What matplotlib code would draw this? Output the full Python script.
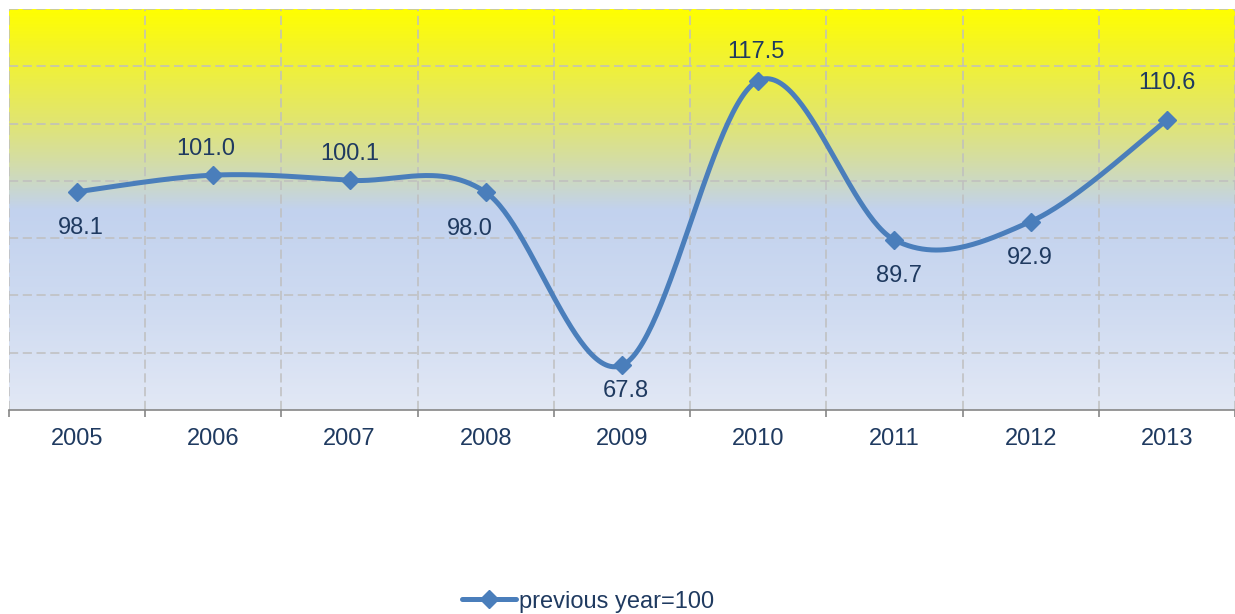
import matplotlib.pyplot as plt
import numpy as np
from matplotlib.colors import to_rgb

years = ["2005", "2006", "2007", "2008", "2009", "2010", "2011", "2012", "2013"]
values = [98.1, 101.0, 100.1, 98.0, 67.8, 117.5, 89.7, 92.9, 110.6]
label_offsets = [(4, -36), (-8, 26), (0, 26), (-16, -37), (4, -26), (-2, 29), (5, -36), (-1, -36), (0, 37)]
series_name = "previous year=100"

LINE_COLOR = "#4A7EBB"
TEXT_COLOR = "#1F3A60"
GRID_COLOR = "#BFBFBF"
FS = 17

plt.rcParams["font.family"] = ["Liberation Sans", "DejaVu Sans"]


def catmull_rom(xs, ys, n=60):
    """Excel-like smoothed line: cubic Bezier through points (Catmull-Rom)."""
    pts = np.column_stack([xs, ys]).astype(float)
    padded = np.vstack([pts[0], pts, pts[-1]])
    out = []
    for i in range(len(pts) - 1):
        p0, p1, p2, p3 = padded[i], padded[i + 1], padded[i + 2], padded[i + 3]
        b1 = p1 + (p2 - p0) / 6
        b2 = p2 - (p3 - p1) / 6
        t = np.linspace(0, 1, n)[:, None]
        seg = ((1 - t) ** 3) * p1 + 3 * ((1 - t) ** 2) * t * b1 + 3 * (1 - t) * t ** 2 * b2 + t ** 3 * p2
        out.append(seg if i == 0 else seg[1:])
    out = np.vstack(out)
    return out[:, 0], out[:, 1]


fig = plt.figure(figsize=(12.35, 6.14), dpi=100)
ax = fig.add_axes([9 / 1235, 204 / 614, 1226 / 1235, 401 / 614])

ymin, ymax = 60, 130
xmin, xmax = -0.5, len(years) - 0.5

# background gradient (top -> bottom)
stops = [
    (0.00, "#FFFF00"),
    (0.08, "#F6F620"),
    (0.27, "#E2E66C"),
    (0.38, "#D4DDA6"),
    (0.45, "#C9D7CF"),
    (0.50, "#C2D2EE"),
    (0.75, "#CFDBF1"),
    (1.00, "#E2E8F5"),
]
fr = np.linspace(0, 1, 400)
grad = np.zeros((400, 1, 3))
for c in range(3):
    grad[:, 0, c] = np.interp(fr, [s[0] for s in stops], [to_rgb(s[1])[c] for s in stops])
ax.imshow(grad, extent=[xmin, xmax, ymin, ymax], aspect="auto", origin="upper", zorder=0)

ax.set_xlim(xmin, xmax)
ax.set_ylim(ymin, ymax)

# grid
for y in range(ymin + 10, ymax + 1, 10):
    ax.axhline(y, color=GRID_COLOR, lw=1.1, linestyle=(0, (6, 3)), zorder=1)
for xb in np.arange(xmin, xmax + 0.01, 1):
    ax.axvline(xb, color=GRID_COLOR, lw=1.1, linestyle=(0, (6, 3)), zorder=1)

x = np.arange(len(years))
sx, sy = catmull_rom(x, values)
ax.plot(sx, sy, color=LINE_COLOR, lw=3.6, zorder=3, solid_capstyle="round")
ax.plot(x, values, linestyle="none", marker="D", ms=9, color=LINE_COLOR, zorder=4)

for xi, v, (dx, dy) in zip(x, values, label_offsets):
    ax.annotate(f"{v:.1f}", (xi, v), xytext=(dx, dy), textcoords="offset pixels",
                ha="center", va="center", fontsize=FS, color=TEXT_COLOR, zorder=5)

# axes styling
for side in ["top", "right", "left"]:
    ax.spines[side].set_visible(False)
ax.spines["bottom"].set_color("#868686")
ax.spines["bottom"].set_linewidth(1.2)
ax.set_yticks([])
ax.set_xticks(np.arange(xmin, xmax + 0.01, 1))
ax.set_xticklabels([])
ax.tick_params(axis="x", direction="out", length=5, width=1.2, color="#868686")
ax.set_xticks(x, minor=True)
ax.set_xticklabels(years, minor=True)
ax.tick_params(axis="x", which="minor", length=0, pad=13, labelsize=FS, labelcolor=TEXT_COLOR)

# legend
handle = plt.Line2D([], [], color=LINE_COLOR, lw=3.6, marker="D", ms=9, solid_capstyle="round")
fig.legend([handle], [series_name], loc="center", bbox_to_anchor=(0.476, 0.02),
           frameon=False, fontsize=FS, labelcolor=TEXT_COLOR,
           handlelength=2.3, handletextpad=0.1, borderpad=0)

fig.savefig("out.png", dpi=100)
